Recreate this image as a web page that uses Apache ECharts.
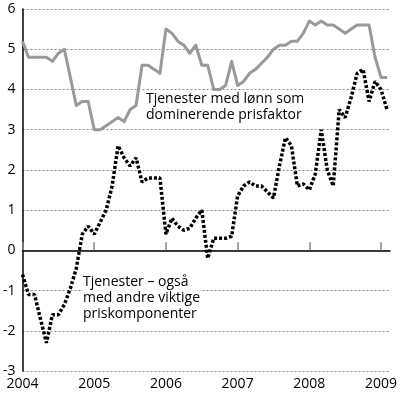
<!DOCTYPE html>
<html>
<head>
<meta charset="utf-8">
<script src="https://cdn.jsdelivr.net/npm/echarts@6/dist/echarts.min.js"></script>
<style>html,body{margin:0;padding:0;background:#fff}#c{width:400px;height:394px}</style>
</head>
<body>
<div id="c"></div>
<script>
// Months since Jan 2004 (0 = Jan 2004)
const years = ['2004', '2005', '2006', '2007', '2008', '2009'];
const yTicks = [-3, -2, -1, 0, 1, 2, 3, 4, 5, 6];
const wageDominated = [
  5.2, 4.8, 4.8, 4.8, 4.8, 4.7, 4.9, 5.0, 4.3, 3.6, 3.7, 3.7,
  3.0, 3.0, 3.1, 3.2, 3.3, 3.2, 3.5, 3.6, 4.6, 4.6, 4.5, 4.4,
  5.5, 5.4, 5.2, 5.1, 4.9, 5.1, 4.6, 4.6, 4.0, 4.0, 4.1, 4.7,
  4.1, 4.2, 4.4, 4.5, 4.65, 4.8, 5.0, 5.1, 5.1, 5.2, 5.2, 5.4,
  5.7, 5.6, 5.7, 5.6, 5.6, 5.5, 5.4, 5.5, 5.6, 5.6, 5.6, 4.8,
  4.3, 4.3
];
const otherComponents = [
  -0.6, -1.1, -1.1, -1.7, -2.3, -1.6, -1.6, -1.35, -0.95, -0.45, 0.4, 0.6,
  0.4, 0.7, 1.0, 1.6, 2.6, 2.3, 2.1, 2.3, 1.7, 1.8, 1.8, 1.8,
  0.4, 0.8, 0.6, 0.5, 0.55, 0.8, 1.0, -0.2, 0.3, 0.3, 0.3, 0.35,
  1.35, 1.6, 1.7, 1.6, 1.6, 1.45, 1.3, 2.1, 2.8, 2.6, 1.6, 1.65,
  1.5, 1.9, 3.0, 2.0, 1.6, 3.5, 3.3, 3.8, 4.4, 4.5, 3.7, 4.2,
  4.0, 3.5
];
const labelWage = 'Tjenester med lønn som\ndominerende prisfaktor';
const labelOther = 'Tjenester – også\nmed andre viktige\npriskomponenter';

const tickMonths = years.map((y, i) => i * 12);
const toPairs = arr => arr.map((v, i) => [i, v]);
const FONT = '"Open Sans", "Noto Sans", sans-serif';

const chart = echarts.init(document.getElementById('c'), null, {renderer: 'canvas'});
chart.setOption({
  animation: false,
  backgroundColor: '#fff',
  grid: {left: 21, right: 5, top: 9, bottom: 23, containLabel: false},
  xAxis: [
    {
      type: 'value', min: 0, max: 61.5, position: 'bottom',
      axisLine: {show: false, onZero: false},
      axisTick: {show: false},
      splitLine: {show: false},
      axisLabel: {
        customValues: tickMonths,
        formatter: v => years[Math.round(v / 12)] || '',
        fontSize: 14, color: '#000', fontFamily: FONT, margin: 6
      }
    },
    {
      type: 'value', min: 0, max: 61.5, position: 'bottom',
      axisLine: {show: true, onZero: true, lineStyle: {color: '#000', width: 1.5}},
      axisTick: {show: true, inside: true, length: 8, customValues: tickMonths,
        lineStyle: {color: '#888', width: 1.5}},
      axisLabel: {show: false},
      splitLine: {show: false}
    }
  ],
  yAxis: {
    type: 'value', min: -3, max: 6, interval: 1,
    axisLine: {show: true, onZero: false, lineStyle: {color: '#000', width: 1.5}},
    axisTick: {show: false},
    axisLabel: {fontSize: 14, color: '#000', fontFamily: FONT, margin: 7,
      customValues: yTicks},
    splitLine: {show: true, lineStyle: {color: '#8a8a8a', width: 1, type: [2, 2]}}
  },
  series: [
    {
      type: 'line', name: labelWage, data: toPairs(wageDominated),
      xAxisIndex: 0, symbol: 'none', z: 3,
      lineStyle: {color: '#999999', width: 3, join: 'round'}
    },
    {
      type: 'line', name: labelOther, data: toPairs(otherComponents),
      xAxisIndex: 0, symbol: 'none', z: 4,
      lineStyle: {color: '#000', width: 3.5, type: [3, 2], cap: 'butt'}
    }
  ],
  graphic: [
    {type: 'text', left: 146, top: 91, z: 10,
      style: {text: labelWage, font: '14px ' + FONT, fill: '#000', lineHeight: 16}},
    {type: 'text', left: 83, top: 274, z: 10,
      style: {text: labelOther, font: '14px ' + FONT, fill: '#000', lineHeight: 16,
        backgroundColor: '#fff'}}
  ]
});
</script>
</body>
</html>
